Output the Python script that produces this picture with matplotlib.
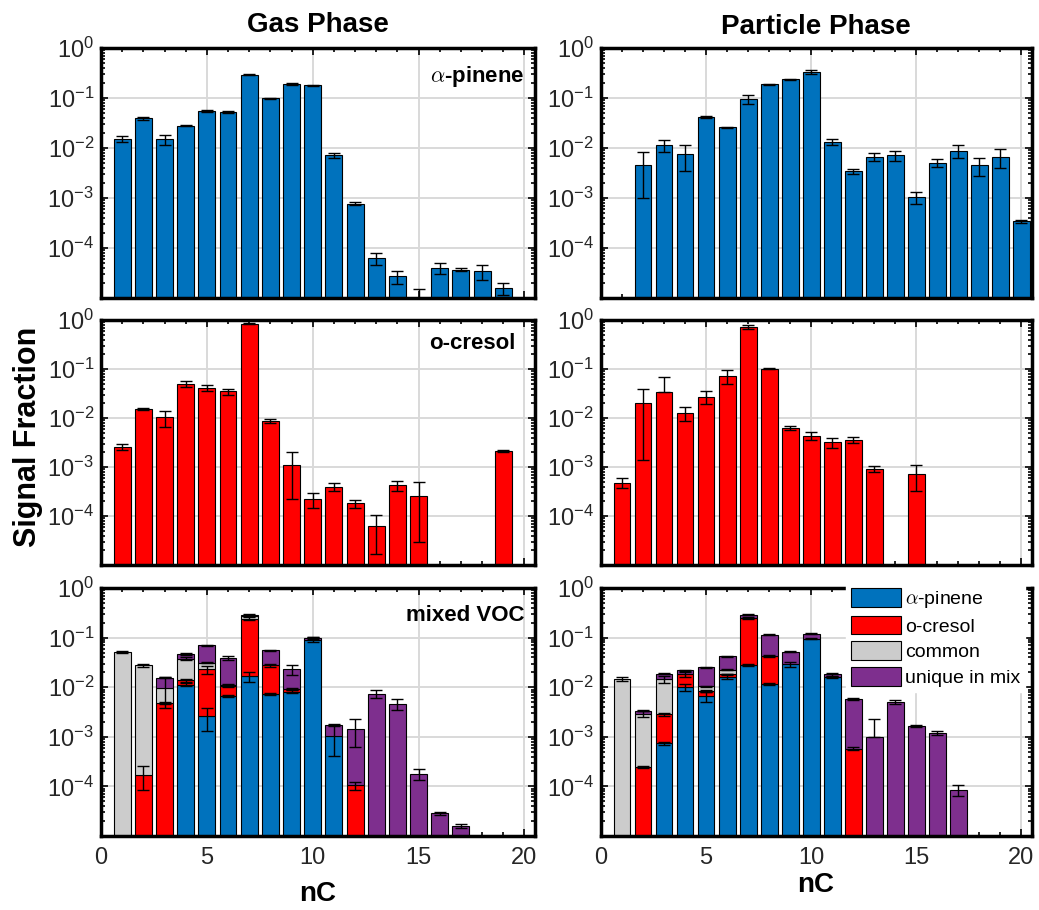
import numpy as np
import matplotlib
matplotlib.use('Agg')
import matplotlib.pyplot as plt
from matplotlib.patches import Patch
from matplotlib.ticker import MultipleLocator, LogLocator, NullFormatter

plt.rcParams['font.family'] = ['Liberation Sans', 'DejaVu Sans']
plt.rcParams['mathtext.fontset'] = 'cm'

nC = np.arange(1, 21)

# single-source experiments
apin_gas = [0.0151, 0.039, 0.015, 0.028, 0.055, 0.052, 0.29, 0.098, 0.19, 0.18,
            0.0071, 7.7e-4, 6.2e-5, 2.7e-5, 9e-6, 4.0e-5, 3.7e-5, 3.4e-5, 1.56e-5, 0]
apin_gas_err = [0.002, 0.003, 0.0035, 0.001, 0.002, 0.002, 0.006, 0.002, 0.006, 0.005,
                7e-4, 5e-5, 1.6e-5, 8e-6, 6.5e-6, 1e-5, 3e-6, 1.1e-5, 4e-6, 0]
apin_part = [0, 4.6e-3, 0.0113, 0.0076, 0.041, 0.026, 0.095, 0.19, 0.236, 0.33,
             0.0132, 3.4e-3, 6.7e-3, 7.1e-3, 1.05e-3, 5.1e-3, 8.8e-3, 4.5e-3, 6.7e-3, 3.4e-4]
apin_part_err = [0, 3.6e-3, 3.1e-3, 4.1e-3, 2e-3, 3e-4, 0.018, 4e-3, 8e-3, 0.03,
                 1.8e-3, 4e-4, 1.3e-3, 1.5e-3, 3e-4, 1e-3, 2.5e-3, 1.7e-3, 2.8e-3, 2e-5]
cres_gas = [2.6e-3, 0.0154, 0.0104, 0.050, 0.042, 0.035, 0.85, 0.0089, 1.12e-3, 2.24e-4,
            4.0e-4, 1.82e-4, 6.2e-5, 4.2e-4, 2.6e-4, 0, 0, 0, 2.1e-3, 0]
cres_gas_err = [4e-4, 5e-4, 3.7e-3, 7e-3, 6e-3, 5e-3, 0.02, 8e-4, 9e-4, 7.5e-5,
                8e-5, 3.5e-5, 4.5e-5, 1e-4, 2.3e-4, 0, 0, 0, 1e-4, 0]
cres_part = [4.8e-4, 0.0204, 0.0346, 0.0128, 0.027, 0.072, 0.73, 0.102, 6.3e-3, 4.4e-3,
             3.2e-3, 3.6e-3, 9.3e-4, 0, 7.2e-4, 0, 0, 0, 0, 0]
cres_part_err = [1.1e-4, 0.019, 0.035, 0.004, 0.008, 0.023, 0.08, 2e-3, 7e-4, 8e-4,
                 8e-4, 5e-4, 1.4e-4, 0, 4e-4, 0, 0, 0, 0, 0]

# mixed VOC experiment, gas phase (stack: a-pinene, o-cresol, common, unique)
mix_gas_apin = [0, 0, 0, 0.0112, 0.0026, 0.0066, 0.0165, 0.0072, 0.0082, 0.0913,
                0.00106, 0, 0, 0, 0, 0, 0, 0, 0, 0]
mix_gas_cres = [0, 1.7e-4, 4.8e-3, 0.0025, 0.0203, 0.0038, 0.2265, 0.0204, 0.0010, 0,
                0, 1.05e-4, 0, 0, 0, 0, 0, 0, 0, 0]
mix_gas_comm = [0.0514, 0.0274, 5.0e-3, 0.024, 0.0084, 6e-4, 0.028, 0, 0, 0,
                0, 0, 0, 0, 0, 0, 0, 0, 0, 0]
mix_gas_uniq = [0, 0, 5.7e-3, 0.010, 0.0387, 0.0279, 0.017, 0.028, 0.0137, 0.0087,
                6.8e-4, 1.365e-3, 7.4e-3, 4.6e-3, 1.8e-4, 2.9e-5, 1.58e-5, 0, 0, 0]
mix_gas_apin_err = [0, 0, 0, 8e-4, 1.3e-3, 3e-4, 3.7e-3, 3e-4, 4e-4, 1e-2,
                    6.5e-4, 0, 0, 0, 0, 0, 0, 0, 0, 0]
mix_gas_cres_err = [0, 8.5e-5, 3e-4, 8e-4, 4e-3, 5e-4, 0.02, 2e-3, 4e-4, 0,
                    0, 2e-5, 0, 0, 0, 0, 0, 0, 0, 0]
mix_gas_comm_err = [1.5e-3, 2e-3, 6e-3, 3e-3, 1e-3, 5e-4, 4e-3, 0, 0, 0,
                    0, 0, 0, 0, 0, 0, 0, 0, 0, 0]
mix_gas_uniq_err = [0, 0, 5e-4, 2e-3, 2e-3, 3e-3, 5e-3, 1e-3, 5e-3, 5e-3,
                    1e-4, 8.5e-4, 1.2e-3, 1.1e-3, 4.5e-5, 2e-6, 1.5e-6, 0, 0, 0]

# mixed VOC experiment, particle phase
mix_part_apin = [0, 0, 7.4e-4, 0.0099, 0.0066, 0.0164, 0.0282, 0.0114, 0.0288, 0.096,
                 0.016, 0, 0, 0, 0, 0, 0, 0, 0, 0]
mix_part_cres = [0, 2.44e-4, 2.14e-3, 0.0084, 0.0019, 0.0019, 0.2208, 0.0314, 0, 0,
                 0, 5.8e-4, 0, 0, 0, 0, 0, 0, 0, 0]
mix_part_comm = [0.0149, 2.63e-3, 0.0117, 0, 0.0019, 0.0041, 0, 0, 0, 0,
                 0, 0, 0, 0, 0, 0, 0, 0, 0, 0]
mix_part_uniq = [0, 4.8e-4, 0.004, 0.0038, 0.0146, 0.0193, 0.042, 0.0722, 0.0237, 0.025,
                 0.0021, 5.17e-3, 9.7e-4, 5.0e-3, 1.66e-3, 1.2e-3, 8.5e-5, 0, 0, 0]
mix_part_apin_err = [0, 0, 5e-5, 1.5e-3, 1.6e-3, 2e-3, 1e-3, 5e-4, 3e-3, 3e-3,
                     1e-3, 0, 0, 0, 0, 0, 0, 0, 0, 0]
mix_part_cres_err = [0, 1e-5, 2e-4, 2e-3, 5e-4, 5e-4, 0.015, 2e-3, 0, 0,
                     0, 3e-5, 0, 0, 0, 0, 0, 0, 0, 0]
mix_part_comm_err = [1.5e-3, 4e-4, 2.2e-3, 0, 3e-4, 5e-4, 0, 0, 0, 0,
                     0, 0, 0, 0, 0, 0, 0, 0, 0, 0]
mix_part_uniq_err = [0, 1e-4, 5e-4, 5e-4, 3e-4, 4e-4, 5e-3, 1e-3, 1e-3, 2e-3,
                     1e-3, 3e-4, 1.27e-3, 5e-4, 5e-5, 1e-4, 2e-5, 0, 0, 0]

c_apin = (0, 0.447, 0.741)
c_cres = (1, 0, 0)
c_comm = (0.8, 0.8, 0.8)
c_uniq = (0.494, 0.184, 0.556)
labels = [r'$\alpha$-pinene', 'o-cresol', 'common', 'unique in mix']
tick_col = '#262626'


def stacked(ax, segs, errs, colors):
    base = np.zeros(len(nC))
    for vals, err, col in zip(segs, errs, colors):
        vals = np.array(vals, float)
        err = np.array(err, float)
        m = vals > 0
        ax.bar(nC[m], vals[m], 0.8, bottom=base[m], color=col,
               edgecolor='k', linewidth=0.8, zorder=2)
        top = base + vals
        e = m & (err > 0)
        # whisker below zero can't be shown on a log axis
        lo = np.where(top - err > 0, err, 0)
        ax.errorbar(nC[e], top[e], yerr=[lo[e], err[e]], fmt='none',
                    ecolor='k', elinewidth=1, capsize=4, capthick=1, zorder=3)
        base = top


def style(ax, bottom_row):
    ax.set_yscale('log')
    ax.set_ylim(1e-5, 1)
    ax.set_xlim(0, 20.5)
    ax.set_yticks([1e-4, 1e-3, 1e-2, 1e-1, 1])
    ax.set_yticklabels([r'$\mathregular{10^{%d}}$' % p for p in [-4, -3, -2, -1, 0]])
    ax.yaxis.set_minor_locator(LogLocator(base=10, subs=np.arange(2, 10), numticks=20))
    ax.yaxis.set_minor_formatter(NullFormatter())
    ax.set_xticks([0, 5, 10, 15, 20])
    ax.xaxis.set_minor_locator(MultipleLocator(1))
    if not bottom_row:
        ax.set_xticklabels([])
    ax.tick_params(which='both', direction='in', top=True, right=True,
                   labelsize=17, labelcolor=tick_col, width=1.2)
    ax.tick_params(which='major', length=5, pad=5)
    ax.tick_params(axis='x', which='major', pad=8)
    ax.tick_params(which='minor', length=3)
    ax.grid(True, which='major', color='#d9d9d9', linewidth=1.4)
    ax.set_axisbelow(True)
    for s in ax.spines.values():
        s.set_linewidth(2.5)


fig = plt.figure(figsize=(10.39, 9.10), dpi=100)
cols = [(0.0972, 0.4177), (0.5784, 0.4148)]
rows = [(0.6725, 0.2747), (0.3791, 0.2692), (0.0813, 0.2725)]
axes = [[fig.add_axes([c[0], r[0], c[1], r[1]]) for c in cols] for r in rows]

stacked(axes[0][0], [apin_gas], [apin_gas_err], [c_apin])
stacked(axes[0][1], [apin_part], [apin_part_err], [c_apin])
stacked(axes[1][0], [cres_gas], [cres_gas_err], [c_cres])
stacked(axes[1][1], [cres_part], [cres_part_err], [c_cres])
stacked(axes[2][0], [mix_gas_apin, mix_gas_cres, mix_gas_comm, mix_gas_uniq],
        [mix_gas_apin_err, mix_gas_cres_err, mix_gas_comm_err, mix_gas_uniq_err],
        [c_apin, c_cres, c_comm, c_uniq])
stacked(axes[2][1], [mix_part_apin, mix_part_cres, mix_part_comm, mix_part_uniq],
        [mix_part_apin_err, mix_part_cres_err, mix_part_comm_err, mix_part_uniq_err],
        [c_apin, c_cres, c_comm, c_uniq])

for i, row in enumerate(axes):
    for ax in row:
        style(ax, i == 2)

axes[0][0].text(0.977, 0.885, r'$\alpha$-pinene', transform=axes[0][0].transAxes,
                ha='right', va='center', fontsize=16, fontweight='bold')
axes[1][0].text(0.955, 0.905, 'o-cresol', transform=axes[1][0].transAxes,
                ha='right', va='center', fontsize=16, fontweight='bold')
axes[2][0].text(0.977, 0.89, 'mixed VOC', transform=axes[2][0].transAxes,
                ha='right', va='center', fontsize=16, fontweight='bold')

handles = [Patch(facecolor=c, edgecolor='k', linewidth=0.8)
           for c in [c_apin, c_cres, c_comm, c_uniq]]
leg = axes[2][1].legend(handles, labels, loc='upper right', bbox_to_anchor=(0.985, 1.02),
                        fontsize=14, frameon=True, fancybox=False, framealpha=1,
                        facecolor='white', edgecolor='white', handlelength=2.6,
                        handleheight=1.1, handletextpad=0.2, labelspacing=0.3,
                        borderpad=0.25, borderaxespad=0)
leg.set_zorder(5)

fig.text(0.306, 0.972, 'Gas Phase', ha='center', va='center', fontsize=20, fontweight='bold')
fig.text(0.785, 0.970, 'Particle Phase', ha='center', va='center', fontsize=20, fontweight='bold')
fig.text(0.027, 0.52, 'Signal Fraction', rotation=90, ha='center', va='center',
         fontsize=22, fontweight='bold')
fig.text(0.306, 0.018, 'nC', ha='center', va='center', fontsize=20, fontweight='bold')
fig.text(0.785, 0.028, 'nC', ha='center', va='center', fontsize=20, fontweight='bold')

fig.savefig('out.png', dpi=100)
